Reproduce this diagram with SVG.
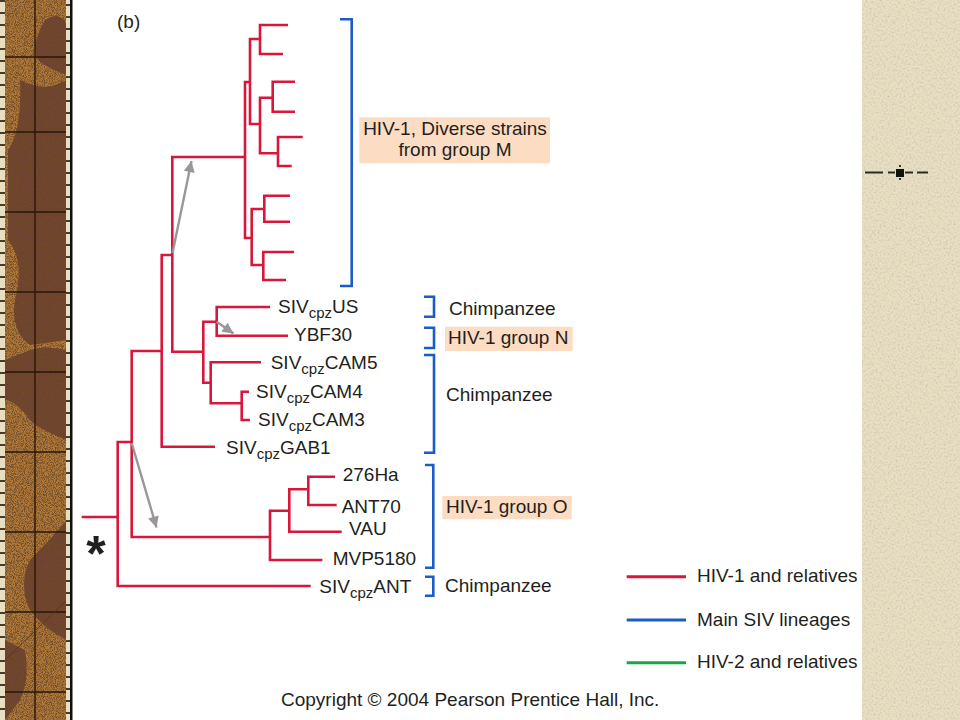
<svg xmlns="http://www.w3.org/2000/svg" width="960" height="720" viewBox="0 0 960 720">
<defs>
<style>
.t{font-family:"Liberation Sans",Arial,Helvetica,sans-serif;font-size:19px;fill:#231f20}
.br{fill:none;stroke:#d8173b;stroke-width:2.6;stroke-linejoin:miter}
.bk{fill:none;stroke:#1b5cc6;stroke-width:2.6}
.ar{fill:none;stroke:#9a9699;stroke-width:2.4}
.hl{fill:#fcdcc2}
.grid{stroke:#2a1608;stroke-width:1.4}
</style>
<marker id="ah" viewBox="0 0 10 10" refX="10" refY="5" markerWidth="13" markerHeight="11" markerUnits="userSpaceOnUse" orient="auto">
<path d="M0,0 L10,5 L0,10 z" fill="#9a9699"/>
</marker>
<filter id="grain" x="0" y="0" width="1" height="1">
<feTurbulence type="fractalNoise" baseFrequency="1.1" numOctaves="2" seed="3" result="n"/>
<feColorMatrix in="n" type="matrix" values="0 0 0 0 0.16  0 0 0 0 0.07  0 0 0 0 0.02  3.2 0 0 0 -1.25" result="c"/>
<feComposite in="c" in2="SourceGraphic" operator="in"/>
</filter>
<filter id="grain2" x="0" y="0" width="1" height="1">
<feTurbulence type="fractalNoise" baseFrequency="0.5" numOctaves="3" seed="7" result="n"/>
<feColorMatrix in="n" type="matrix" values="0 0 0 0 0.6  0 0 0 0 0.55  0 0 0 0 0.42  2 0 0 0 -0.85" result="c"/>
<feComposite in="c" in2="SourceGraphic" operator="in"/>
</filter>
</defs>

<g id="background">
<rect x="0" y="0" width="960" height="720" fill="#ffffff"/>
<rect x="0" y="0" width="72" height="720" fill="#b27a3a"/>
<path d="M45,20 Q60,10 67,25 L67,75 Q50,70 38,60 Q30,45 45,20 Z M20,80 Q40,90 55,85 L67,80 L67,340 L30,345 Q10,330 15,300 Q25,260 8,240 L8,150 Q22,130 20,80 Z M5,360 L30,350 Q45,345 67,350 L67,440 Q40,430 30,420 Q15,400 5,400 Z M67,520 L67,640 Q45,630 30,610 Q18,585 30,560 Q50,540 67,520 Z M5,640 L25,650 Q30,680 20,700 L5,720 Z" fill="#6e4232"/>
<rect x="0" y="0" width="72" height="720" fill="#000" filter="url(#grain)"/>
<g class="grid">
<line x1="35" y1="0" x2="35" y2="720"/>
<line x1="5" y1="57" x2="67" y2="57"/>
<line x1="5" y1="132" x2="67" y2="132"/>
<line x1="5" y1="212" x2="67" y2="212"/>
<line x1="5" y1="292" x2="67" y2="292"/>
<line x1="5" y1="372" x2="67" y2="372"/>
<line x1="5" y1="452" x2="67" y2="452"/>
<line x1="5" y1="532" x2="67" y2="532"/>
<line x1="5" y1="612" x2="67" y2="612"/>
<line x1="5" y1="692" x2="67" y2="692"/>
<line x1="5" y1="660" x2="67" y2="600" stroke-width="0.8" stroke="#5a3018"/>
</g>
<rect x="0" y="0" width="5" height="720" fill="#e8dfc2"/>
<rect x="66" y="0" width="4" height="720" fill="#e8dfc2"/>
<line x1="2.5" y1="0" x2="2.5" y2="720" stroke="#4a3a28" stroke-width="5" stroke-dasharray="2 10"/>
<line x1="68" y1="4" x2="68" y2="720" stroke="#4a3a28" stroke-width="4" stroke-dasharray="2 10"/>
<rect x="70" y="0" width="2.5" height="720" fill="#111"/>
<rect x="862" y="0" width="98" height="720" fill="#e9e0c3"/>
<rect x="862" y="0" width="98" height="720" fill="#000" filter="url(#grain2)"/>
</g>

<g id="ornament">
<line x1="865" y1="172.5" x2="883" y2="172.5" stroke="#2a2a22" stroke-width="2"/>
<line x1="888" y1="172.5" x2="895" y2="172.5" stroke="#2a2a22" stroke-width="2"/>
<rect x="896" y="169" width="8" height="8" fill="#111"/>
<line x1="905" y1="172.5" x2="913" y2="172.5" stroke="#2a2a22" stroke-width="2"/>
<line x1="917" y1="172.5" x2="928" y2="172.5" stroke="#2a2a22" stroke-width="2"/>
<rect x="899" y="165" width="2" height="2" fill="#333"/>
<rect x="899" y="178" width="2" height="2" fill="#333"/>
</g>

<g id="panel-label"><text class="t" x="117" y="28">(b)</text></g>

<g id="connectors">
<path class="br" d="M203.3,351.7 H172.3 V157 H245"/>
<path class="br" d="M250,82 H245 V238 H251.7"/>
<path class="br" d="M260,39 H250 V124 H260"/>
<path class="br" d="M288,25 H260 V54 H283"/>
<path class="br" d="M272.7,97.7 H260 V153.3 H278"/>
<path class="br" d="M295,81.7 H272.7 V111.7 H295"/>
<path class="br" d="M302.7,137 H278 V166 H291.7"/>
<path class="br" d="M264.3,209 H251.7 V265 H263.3"/>
<path class="br" d="M290,195.7 H264.3 V221.7 H290"/>
<path class="br" d="M294,252 H263.3 V280 H286"/>
<path class="br" d="M172.3,255 H161.7 V446.7 H215"/>
<path class="br" d="M216.7,321.7 H203.3 V382.7 H210.7"/>
<path class="br" d="M270,307 H216.7 V335.7 H288"/>
<path class="br" d="M261,362.3 H210.7 V403.3 H241.7"/>
<path class="br" d="M249,391.7 H241.7 V420 H250"/>
<path class="br" d="M161.7,351 H131.7 V537 H270"/>
<path class="br" d="M131.7,442 H117.7 V586 H310.7"/>
<path class="br" d="M81.7,517 H117.7"/>
<path class="br" d="M289.3,510.7 H270 V560 H322.3"/>
<path class="br" d="M308.3,489.3 H289.3 V531.7 H341.7"/>
<path class="br" d="M335,476.7 H308.3 V505 H336.7"/>
<path class="ar" d="M172.5,253 L191.5,161" marker-end="url(#ah)"/>
<path class="ar" d="M216.7,321.7 L233.5,333.5" marker-end="url(#ah)"/>
<path class="ar" d="M131.7,443 L156.5,527.5" marker-end="url(#ah)"/>
<path class="bk" d="M340,19.3 H351.7 V286 H340"/>
<path class="bk" d="M424,296.7 H434 V316.7 H424"/>
<path class="bk" d="M424,327.7 H434 V348 H424"/>
<path class="bk" d="M424,355 H434 V452.7 H424"/>
<path class="bk" d="M425,465 H433.3 V567.7 H425"/>
<path class="bk" d="M425,576.7 H433.3 V595.7 H425"/>
</g>

<g id="root-marker"><text x="96" y="571" text-anchor="middle" style="font-family:'Liberation Sans',Arial,sans-serif;font-size:50px;font-weight:bold;fill:#231f20">*</text></g>

<g id="group-M">
<rect class="hl" x="359.3" y="117.3" width="190.7" height="46"/>
<text class="t" x="455" y="134.5" text-anchor="middle">HIV-1, Diverse strains</text>
<text class="t" x="455" y="156" text-anchor="middle">from group M</text>
</g>

<g id="leaf-US"><text class="t" x="278" y="313.3">SIV<tspan font-size="15" dy="5">cpz</tspan><tspan dy="-5">US</tspan></text></g>
<g id="leaf-YBF30"><text class="t" x="294" y="341.3">YBF30</text></g>
<g id="leaf-CAM5"><text class="t" x="270.7" y="369.3">SIV<tspan font-size="15" dy="5">cpz</tspan><tspan dy="-5">CAM5</tspan></text></g>
<g id="leaf-CAM4"><text class="t" x="256" y="397.7">SIV<tspan font-size="15" dy="5">cpz</tspan><tspan dy="-5">CAM4</tspan></text></g>
<g id="leaf-CAM3"><text class="t" x="258" y="425.7">SIV<tspan font-size="15" dy="5">cpz</tspan><tspan dy="-5">CAM3</tspan></text></g>
<g id="leaf-GAB1"><text class="t" x="226" y="454.3">SIV<tspan font-size="15" dy="5">cpz</tspan><tspan dy="-5">GAB1</tspan></text></g>
<g id="leaf-276Ha"><text class="t" x="342.7" y="480.7">276Ha</text></g>
<g id="leaf-ANT70"><text class="t" x="341.7" y="512.7">ANT70</text></g>
<g id="leaf-VAU"><text class="t" x="349" y="535.3">VAU</text></g>
<g id="leaf-MVP5180"><text class="t" x="332.7" y="565.3">MVP5180</text></g>
<g id="leaf-ANT"><text class="t" x="319.3" y="592.7">SIV<tspan font-size="15" dy="5">cpz</tspan><tspan dy="-5">ANT</tspan></text></g>

<g id="label-chimp-US"><text class="t" x="449" y="315">Chimpanzee</text></g>
<g id="label-group-N">
<rect class="hl" x="445" y="326.7" width="127.7" height="24.3"/>
<text class="t" x="448" y="344.3">HIV-1 group N</text>
</g>
<g id="label-chimp-CAM"><text class="t" x="446" y="400.7">Chimpanzee</text></g>
<g id="label-group-O">
<rect class="hl" x="442.3" y="496" width="129.4" height="23.3"/>
<text class="t" x="446" y="513.3">HIV-1 group O</text>
</g>
<g id="label-chimp-ANT"><text class="t" x="445" y="591.7">Chimpanzee</text></g>

<g id="legend">
<line x1="626.7" y1="576.7" x2="686" y2="576.7" stroke="#d8173b" stroke-width="3"/>
<text class="t" x="697" y="582.3">HIV-1 and relatives</text>
<line x1="626.7" y1="620" x2="686" y2="620" stroke="#1b5cc6" stroke-width="3"/>
<text class="t" x="697" y="626">Main SIV lineages</text>
<line x1="626.7" y1="662.7" x2="686" y2="662.7" stroke="#19a449" stroke-width="3"/>
<text class="t" x="697" y="668.3">HIV-2 and relatives</text>
</g>

<g id="copyright"><text class="t" x="281" y="706">Copyright © 2004 Pearson Prentice Hall, Inc.</text></g>
</svg>
